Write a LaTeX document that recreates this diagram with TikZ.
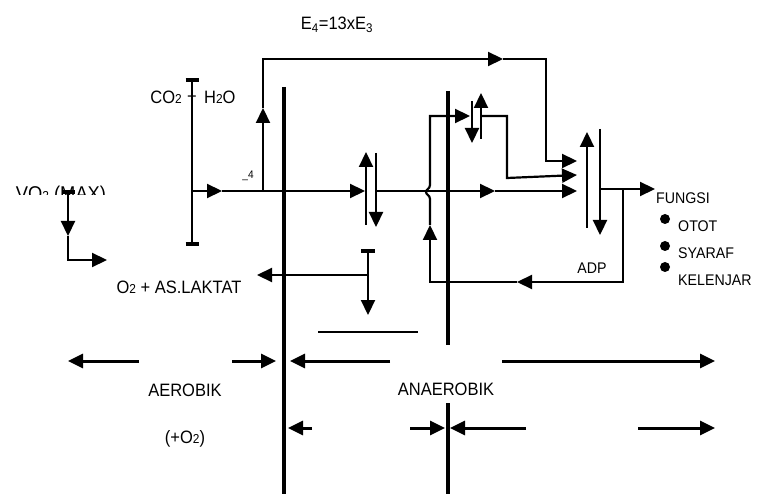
\documentclass[tikz,border=0pt]{standalone}
\usepackage{fontspec}
\setmainfont{Liberation Sans}[FakeStretch=0.92]
\usetikzlibrary{arrows.meta}

\newcommand\lowdig[1]{{\fontsize{13}{13}\selectfont #1}}

\begin{document}
\begin{tikzpicture}[x=1bp, y=-1bp,
  ln/.style={line width=2.2bp},
  bar/.style={line width=3.5bp},
  arr/.style={ln, -{Triangle[length=15bp, width=14bp]}},
  lbl/.style={font=\fontsize{18}{18}\selectfont, inner sep=0pt},
  sml/.style={font=\fontsize{15.5}{15.5}\selectfont, inner sep=0pt},
  dot/.style={circle, fill, inner sep=0pt, minimum size=10bp}
]
\useasboundingbox (0,0) rectangle (759,494);

% labels
\node[lbl] (eq) at (337,25) {E\textsubscript{4}=13xE\textsubscript{3}};
\node[lbl, anchor=east] (co) at (182,97) {CO\lowdig{2}};
\node[lbl] (plus) at (192,97) {+};
\node[lbl, anchor=west] (ho) at (204,97) {H\lowdig{2}O};
\node[font=\fontsize{11}{11}\selectfont, inner sep=0pt] (e4) at (248,176) {\_4};
\node[lbl] (lak) at (179,287) {O\lowdig{2} + AS.LAKTAT};
\node[sml] (adp) at (592,268) {ADP};
\node[sml, anchor=west] (fun) at (656,198) {FUNGSI};
\node[dot] (b1) at (665,219) {};
\node[dot] (b2) at (665,246) {};
\node[dot] (b3) at (665,267) {};
\node[sml, anchor=west] (otot) at (678,226) {OTOT};
\node[sml, anchor=west] (syr) at (678,253) {SYARAF};
\node[sml, anchor=west] (kel) at (678,280) {KELENJAR};
\node[lbl] (aer) at (185,390) {AEROBIK};
\node[lbl] (ana) at (446,389) {ANAEROBIK};
\node[lbl] (otwo) at (185,439) {(+O\lowdig{2})};
\begin{scope}
  \clip (0,150) rectangle (140,195);
  \node[font=\fontsize{20}{20}\selectfont, inner sep=0pt, anchor=base] (vo) at (61,201) {VO\lowdig{2} (MAX)};
\end{scope}

% points
\coordinate (L1) at (192,80);  \coordinate (L2) at (192,244);
\coordinate (M0) at (192,191); \coordinate (M1) at (222,191);
\coordinate (S1) at (365,191); \coordinate (M2) at (376,191);
\coordinate (M3) at (495,191); \coordinate (M4) at (577,191);
\coordinate (U0) at (263,191); \coordinate (U1) at (263,108);
\coordinate (U2) at (263,59);  \coordinate (U3) at (503,59);
\coordinate (U4) at (546,59);  \coordinate (U5) at (546,161);
\coordinate (U6) at (577,161);
\coordinate (O0) at (600,189); \coordinate (O1) at (655,189);
\coordinate (A0) at (623,189); \coordinate (A1) at (623,282);
\coordinate (A2) at (517,282); \coordinate (A3) at (430,282);
\coordinate (A4) at (430,225); \coordinate (A5) at (430,116);
\coordinate (A6) at (470,116);
\coordinate (R0) at (481,116); \coordinate (R1) at (507,116);
\coordinate (R2) at (507,178); \coordinate (R3) at (577,175);
\coordinate (K0) at (368,251); \coordinate (K1) at (368,315);
\coordinate (K2) at (368,275); \coordinate (K3) at (257,275);
\coordinate (V0) at (68,192);  \coordinate (V1) at (68,236);
\coordinate (V2) at (68,260);  \coordinate (V3) at (107,260);

% phase bars
\draw[bar] (284,87) -- (284,494);
\draw[bar] (448,91) -- (448,345);
\draw[bar] (448,403) -- (448,494);

% CO2 + H2O bar
\draw[ln] (L1) -- (L2);
\draw[bar] ([xshift=-6.5bp]L1) -- ([xshift=6.5bp]L1);
\draw[bar] ([xshift=-6.5bp]L2) -- ([xshift=6.5bp]L2);

% main line
\draw[arr] (M0) -- (M1);
\draw[arr] (M1) -- (S1);
\draw[arr] (M2) -- (M3);
\draw[arr] (M3) -- (M4);
\draw[arr] (366,225) -- (366,152);
\draw[arr] (376,153) -- (376,227);

% E4 path
\draw[arr] (U0) -- (U1);
\draw[arr] (U1) -- (U2) -- (U3);
\draw[arr] (U3) -- (U4) -- (U5) -- (U6);

% ADP loop
\draw[arr] (O0) -- (O1);
\draw[arr] (A0) -- (A1) -- (A2);
\draw[arr] (A2) -- (A3) -- (A4);
\draw[arr] (A4) -- (430,199) .. controls (430,195) and (426,195) .. (426,192)
  .. controls (426,189) and (430,189) .. (430,185) -- (A5) -- (A6);
\draw[arr] (472,101) -- (472,143);
\draw[arr] (481,139) -- (481,93);
\draw[arr] (R0) -- (R1) -- (R2) -- (R3);
\draw[arr] (587,228) -- (587,132);
\draw[arr] (600,129) -- (600,235);

% lactate branch
\draw[bar] (361,251) -- (375,251);
\draw[arr] (K0) -- (K1);
\draw[arr] (K2) -- (K3);
\draw[ln] (318,332) -- (418,332);

% VO2 (MAX)
\draw[bar] (62,192) -- (75,192);
\draw[arr] (V0) -- (V1);
\draw[arr] (V1) -- (V2) -- (V3);

% bottom arrows
\draw[arr, line width=3bp] (139,361) -- (68,361);
\draw[arr, line width=3bp] (232,361) -- (276,361);
\draw[arr, line width=3bp] (390,361) -- (290,361);
\draw[arr, line width=3bp] (502,361) -- (715,361);
\draw[arr, line width=3bp] (312,428) -- (288,428);
\draw[arr, line width=3bp] (410,428) -- (445,428);
\draw[arr, line width=3bp] (526,428) -- (450,428);
\draw[arr, line width=3bp] (638,428) -- (715,428);

\end{tikzpicture}
\end{document}
